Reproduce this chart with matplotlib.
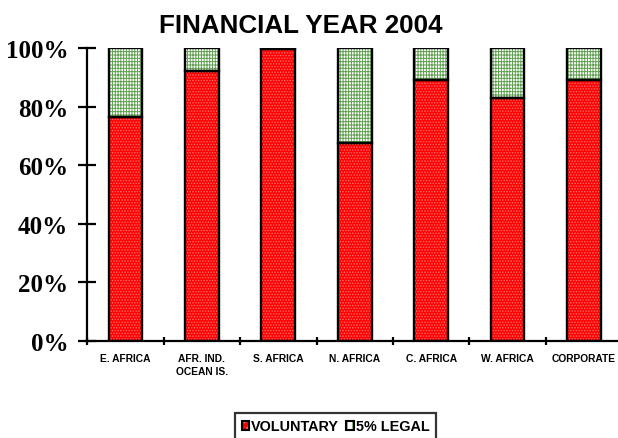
import matplotlib
matplotlib.use("Agg")
import matplotlib.pyplot as plt
from matplotlib.patches import Patch
from matplotlib.legend_handler import HandlerTuple
import numpy as np

# Share of contributions by region, financial year 2004 (percent of total)
regions = ["E. AFRICA", "AFR. IND.\nOCEAN IS.", "S. AFRICA", "N. AFRICA",
           "C. AFRICA", "W. AFRICA", "CORPORATE"]
voluntary = [76.5, 92.0, 99.5, 67.5, 89.0, 83.0, 89.0]
legal = [23.5, 8.0, 0.5, 32.5, 11.0, 17.0, 11.0]
y_ticks = [0, 20, 40, 60, 80, 100]
y_labels = ["0%", "20%", "40%", "60%", "80%", "100%"]

plt.rcParams["hatch.linewidth"] = 0.7

W, H = 618, 439
fig = plt.figure(figsize=(W / 100, H / 100), dpi=100)
fig.patch.set_facecolor("white")

ax = fig.add_axes([87.3 / W, (H - 342) / H, 534.8 / W, 293 / H])
ax.set_facecolor("white")

x = np.arange(len(regions))
vol = np.array(voluntary) / 100
leg = np.array(legal) / 100
width = 0.445

red_fill = "#ff0000"
dot_col = "#ff7070"
green_col = "#5f9f4f"

# hatched fills
ax.bar(x, vol, width, color=red_fill, edgecolor=dot_col, hatch="......",
       linewidth=0, zorder=2)
ax.bar(x, leg, width, bottom=vol, color="white", edgecolor=green_col,
       hatch="||||||-----", linewidth=0, zorder=2)
# black outlines
ax.bar(x, vol, width, fill=False, edgecolor="black", linewidth=1.7, zorder=3)
ax.bar(x, leg, width, bottom=vol, fill=False, edgecolor="black",
       linewidth=1.7, zorder=3)

ax.set_xlim(-0.5, len(regions) - 0.5)
ax.set_ylim(0, 1)

for side in ("top", "right"):
    ax.spines[side].set_visible(False)
for side in ("left", "bottom"):
    ax.spines[side].set_linewidth(1.6)
    ax.spines[side].set_color("black")

ax.set_yticks(np.array(y_ticks) / 100)
ax.set_yticklabels(y_labels, family="Liberation Serif", fontweight="bold",
                   fontsize=18)
ax.tick_params(axis="y", direction="inout", length=12.6, width=1.6, pad=7.5)

ax.set_xticks(np.arange(len(regions) + 1) - 0.5)
ax.set_xticklabels([])
ax.tick_params(axis="x", which="major", direction="inout", length=6,
               width=1.6)
ax.set_xticks(x, minor=True)
ax.set_xticklabels(regions, minor=True, family="Liberation Sans",
                   fontweight="bold", fontsize=7.4, linespacing=1.45)
ax.tick_params(axis="x", which="minor", length=0, pad=8.4)

fig.text(300.5 / W, 1 - 33 / H, "FINANCIAL YEAR 2004",
         family="Liberation Sans", fontweight="bold", fontsize=18.7,
         ha="center", va="baseline")

h_vol = (Patch(facecolor=red_fill, edgecolor=dot_col, hatch="...", lw=0),
         Patch(fill=False, edgecolor="black", lw=1.5))
h_leg = (Patch(facecolor="white", edgecolor=green_col, hatch="|||", lw=0),
         Patch(fill=False, edgecolor="black", lw=1.5))
lg = fig.legend([h_vol, h_leg], ["VOLUNTARY", "5% LEGAL"],
                handler_map={tuple: HandlerTuple(ndivide=1, pad=0)},
                loc="upper left", bbox_to_anchor=(235 / W, 1 - 414 / H),
                borderaxespad=0, ncol=2, frameon=True, fancybox=False,
                prop={"family": "Liberation Sans", "weight": "bold",
                      "size": 10.4},
                handlelength=0.55, handleheight=0.55, handletextpad=0.1,
                columnspacing=0.5, borderpad=0.45)
lg.get_frame().set_edgecolor("black")
lg.get_frame().set_linewidth(1.6)

fig.savefig("out.png", dpi=100, facecolor="white")
